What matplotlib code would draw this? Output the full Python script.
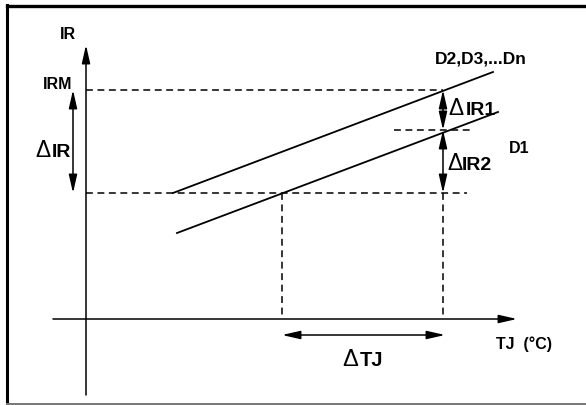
import matplotlib
matplotlib.use('Agg')
import matplotlib.pyplot as plt

# схема в пиксельных координатах картинки (586x405, ось y вниз)
W, H = 586, 405

# оси
y_axis_x = 86
y_axis_top, y_axis_bottom = 45, 395
x_axis_y = 319
x_axis_left, x_axis_right = 53, 517

# уровни тока
irm_y = 90
mid_y = 130
low_y = 193

# прямые D2..Dn и D1: (x0, y0, x1, y1)
line_d2 = [173, 193, 493, 72]
line_d1 = [177, 233, 498, 112]

# вертикальные пунктиры
tj1_x = 282
tj2_x = 443

# подписи: текст, x слева, y центра, размер
labels = [
    ('IR', 60, 33, 11.5),
    ('IRM', 43, 83, 11.5),
    ('D2,D3,...Dn', 435, 57, 12.5),
    ('D1', 509, 147, 11.5),
    ('TJ  (°C)', 496, 343, 11.5),
]
delta_labels = [
    ('IR', 35, 52, 150, 14),
    ('IR1', 448, 466, 108, 14),
    ('IR2', 447, 462, 163, 14),
    ('TJ', 342, 360, 359, 14.5),
]

plt.rcParams['font.family'] = ['Liberation Sans', 'DejaVu Sans']

fig = plt.figure(figsize=(W / 100, H / 100), dpi=100)
ax = fig.add_axes([0, 0, 1, 1])
ax.set_xlim(0, W)
ax.set_ylim(H, 0)
ax.axis('off')

# рамка
ax.plot([7, W], [6, 6], color='black', lw=2.4)
ax.plot([7, 7], [5, 404], color='black', lw=2.2)
ax.plot([7, W], [403.5, 403.5], color='#777777', lw=1.4)

lw = 1.1
dash = (0, (4.5, 3))


def arrow(x0, y0, x1, y1, style='-|>'):
    ax.annotate('', xy=(x1, y1), xytext=(x0, y0),
                arrowprops=dict(arrowstyle=style + ',head_length=1.1,head_width=0.25',
                                color='black', lw=lw, shrinkA=0, shrinkB=0))


def baseline(yc, fs):
    # центр заглавных букв -> базовая линия
    return yc + 0.358 * fs * 100 / 72


# оси координат
arrow(y_axis_x, y_axis_bottom, y_axis_x, y_axis_top)
arrow(x_axis_left, x_axis_y, x_axis_right, x_axis_y)

# пунктиры
ax.plot([y_axis_x, 443], [irm_y, irm_y], color='black', lw=lw, ls=dash)
ax.plot([y_axis_x, 467], [low_y, low_y], color='black', lw=lw, ls=dash)
ax.plot([394, 471], [mid_y, mid_y], color='black', lw=lw, ls=dash)
ax.plot([tj1_x, tj1_x], [low_y, x_axis_y], color='black', lw=lw, ls=dash)
ax.plot([tj2_x, tj2_x], [low_y, x_axis_y], color='black', lw=lw, ls=dash)

# характеристики
ax.plot(line_d2[0::2], line_d2[1::2], color='black', lw=1.3)
ax.plot(line_d1[0::2], line_d1[1::2], color='black', lw=1.3)

# размерные стрелки
arrow(73, irm_y, 73, low_y, '<|-|>')
arrow(tj2_x, irm_y, tj2_x, mid_y, '<|-|>')
arrow(tj2_x, mid_y, tj2_x, low_y, '<|-|>')
arrow(tj1_x, 335, 445, 335, '<|-|>')

for txt, x, y, fs in labels:
    ax.text(x, baseline(y, fs), txt, fontsize=fs, fontweight='bold',
            ha='left', va='baseline')

for txt, xd, xt, y, fs in delta_labels:
    b = baseline(y, fs)
    ax.text(xd, b, 'Δ', fontsize=fs + 2.5, fontweight='normal', ha='left', va='baseline')
    ax.text(xt, b, txt, fontsize=fs, fontweight='bold', ha='left', va='baseline')

fig.savefig('out.png', dpi=100)
